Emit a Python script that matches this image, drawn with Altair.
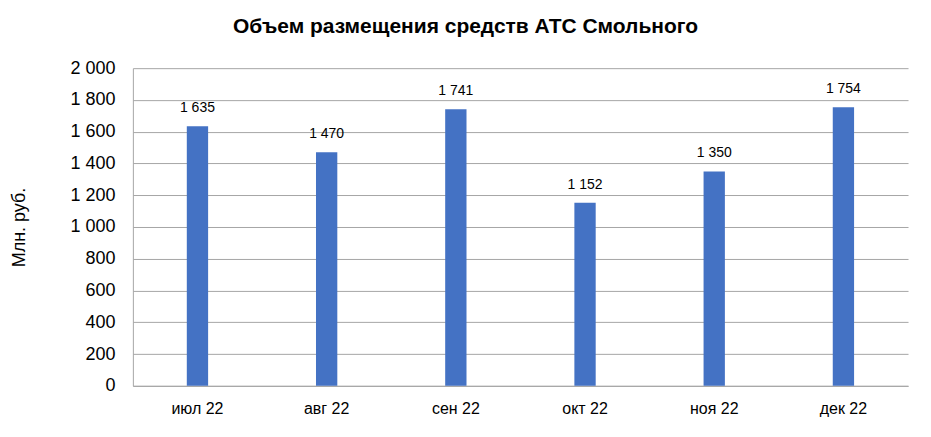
import altair as alt
import pandas as pd

months = ["июл 22", "авг 22", "сен 22", "окт 22", "ноя 22", "дек 22"]
values = [1635, 1470, 1741, 1152, 1350, 1754]
labels = ["1 635", "1 470", "1 741", "1 152", "1 350", "1 754"]
y_ticks = [0, 200, 400, 600, 800, 1000, 1200, 1400, 1600, 1800, 2000]

df = pd.DataFrame({"month": months, "value": values, "label": labels})

FONT = "Liberation Sans"
GRID = "#a6a6a6"

x = alt.X("month:N", sort=months, title=None,
          scale=alt.Scale(paddingInner=0.835, paddingOuter=0.4175),
          axis=alt.Axis(labelAngle=0, labelFont=FONT, labelFontSize=16, labelColor="#000000",
                        labelPadding=15, ticks=False, domainColor=GRID, grid=False))
y = alt.Y("value:Q", title="Млн. руб.",
          scale=alt.Scale(domain=[0, 2000], nice=False),
          axis=alt.Axis(values=y_ticks, tickCount=20, labelExpr="replace(format(datum.value, ',d'), ',', ' ')",
                        labelOverlap=False, labelFlush=False,
                        labelFont=FONT, labelFontSize=18, labelColor="#000000", labelPadding=18,
                        ticks=False, domain=True, domainColor=GRID, gridColor=GRID,
                        titleFont=FONT, titleFontSize=18, titleFontWeight="normal",
                        titleColor="#000000", titleX=-113, titleY=159, titleAngle=-90,
                        titleAlign="center", titleBaseline="middle"))

bars = alt.Chart(df).mark_bar(color="#4472C4").encode(x=x, y=y)
text = alt.Chart(df).mark_text(font=FONT, fontSize=14, color="#000000", dy=-11,
                               baseline="bottom").encode(x=x, y=y, text="label:N")

chart = (bars + text).properties(
    width=776, height=318,
    autosize=alt.AutoSizeParams(type="none"),
    padding={"left": 125, "top": 60, "right": 15, "bottom": 40},
    title=alt.TitleParams("Объем размещения средств АТС Смольного", font=FONT, fontSize=21,
                          fontWeight="bold", color="#000000", anchor="middle", dx=-55, offset=22),
).configure_view(stroke=None)

chart.save("out.html", embed_options={"renderer": "svg", "actions": False})
